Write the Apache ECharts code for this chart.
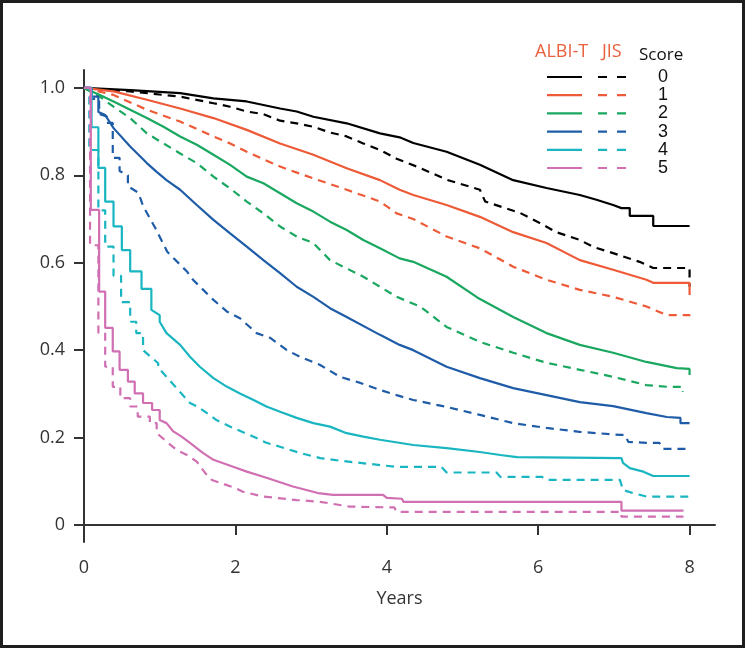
<!DOCTYPE html>
<html>
<head>
<meta charset="utf-8">
<script src="https://cdn.jsdelivr.net/npm/echarts@6/dist/echarts.min.js"></script>
<style>
html,body{margin:0;padding:0;background:#fff;}
#main{width:745px;height:648px;}
</style>
</head>
<body>
<div id="main"></div>
<script>
// score groups and colours
var scores = ['0','1','2','3','4','5'];
var colors = ['#000000','#ee5a37','#1aa760','#1f5ca8','#19b6c1','#d06fb2'];
var xTicks = [0,2,4,6,8];
var yTicks = [0,0.2,0.4,0.6,0.8,1.0];

// ALBI-T curves (solid), [years, survival]; repeated years = vertical drop
var albi0 = [[0,1],[0.61,0.995],[1.27,0.988],[1.71,0.976],[2.15,0.969],[2.59,0.953],[2.81,0.946],[3.03,0.934],[3.47,0.919],[3.91,0.896],[4.17,0.887],[4.35,0.874],[4.79,0.854],[5.23,0.824],[5.67,0.789],[6.11,0.771],[6.55,0.755],[6.77,0.744],[6.99,0.732],[7.1,0.725],[7.21,0.725],[7.21,0.707],[7.52,0.707],[7.52,0.684],[8.0,0.684]];
var albi1 = [[0,1],[0.39,0.992],[0.83,0.973],[1.27,0.953],[1.71,0.931],[2.15,0.904],[2.59,0.873],[3.03,0.847],[3.47,0.816],[3.91,0.789],[4.17,0.767],[4.35,0.755],[4.79,0.732],[5.23,0.705],[5.67,0.67],[6.11,0.645],[6.55,0.606],[6.99,0.584],[7.43,0.561],[7.52,0.554],[8.0,0.554],[8.0,0.526]];
var albi2 = [[0,1],[0.21,0.984],[0.39,0.969],[0.61,0.95],[0.83,0.931],[1.05,0.911],[1.27,0.889],[1.49,0.87],[1.71,0.847],[1.93,0.824],[2.15,0.797],[2.37,0.782],[2.59,0.759],[2.81,0.736],[3.03,0.717],[3.25,0.694],[3.47,0.675],[3.69,0.652],[3.91,0.633],[4.17,0.61],[4.35,0.602],[4.79,0.568],[5.2,0.52],[5.67,0.476],[6.11,0.439],[6.55,0.412],[6.99,0.394],[7.43,0.373],[7.83,0.359],[8.0,0.357],[8.0,0.343]];
var albi3 = [[0,1],[0.1,1],[0.1,0.98],[0.19,0.98],[0.19,0.945],[0.28,0.938],[0.39,0.908],[0.61,0.866],[0.83,0.828],[0.96,0.808],[1.09,0.789],[1.27,0.767],[1.49,0.732],[1.71,0.698],[1.93,0.667],[2.15,0.637],[2.37,0.606],[2.59,0.576],[2.81,0.545],[3.03,0.522],[3.25,0.496],[3.47,0.476],[3.91,0.435],[4.17,0.412],[4.35,0.40],[4.79,0.362],[5.23,0.336],[5.67,0.313],[6.11,0.297],[6.55,0.281],[6.99,0.272],[7.43,0.256],[7.7,0.247],[7.88,0.245],[7.88,0.233],[8.0,0.233]];
var albi4 = [[0,1],[0.1,1],[0.1,0.91],[0.19,0.91],[0.19,0.817],[0.28,0.817],[0.28,0.74],[0.39,0.74],[0.39,0.683],[0.5,0.683],[0.5,0.629],[0.61,0.629],[0.61,0.58],[0.76,0.58],[0.76,0.54],[0.89,0.54],[0.89,0.492],[1.0,0.48],[1.0,0.465],[1.09,0.439],[1.27,0.412],[1.4,0.385],[1.53,0.362],[1.71,0.336],[1.89,0.316],[2.06,0.301],[2.24,0.286],[2.41,0.271],[2.59,0.259],[2.81,0.245],[3.03,0.233],[3.25,0.225],[3.47,0.21],[3.69,0.202],[3.91,0.195],[4.35,0.183],[4.79,0.176],[5.23,0.167],[5.5,0.16],[5.72,0.155],[7.1,0.153],[7.12,0.142],[7.21,0.13],[7.39,0.122],[7.52,0.112],[8.0,0.112]];
var albi5 = [[0,1],[0.09,1],[0.09,0.721],[0.2,0.721],[0.2,0.534],[0.28,0.534],[0.28,0.451],[0.38,0.451],[0.38,0.397],[0.47,0.397],[0.47,0.355],[0.58,0.355],[0.58,0.328],[0.67,0.328],[0.67,0.301],[0.78,0.301],[0.78,0.279],[0.9,0.279],[0.9,0.263],[1.0,0.263],[1.0,0.24],[1.09,0.233],[1.18,0.214],[1.29,0.202],[1.4,0.188],[1.57,0.165],[1.71,0.149],[1.97,0.133],[2.15,0.122],[2.41,0.108],[2.76,0.088],[3.09,0.073],[3.29,0.069],[3.95,0.069],[4.0,0.062],[4.2,0.06],[4.22,0.053],[7.1,0.053],[7.1,0.033],[7.92,0.033]];

// JIS curves (dashed)
var jis0 = [[0,1],[0.61,0.992],[1.27,0.98],[1.71,0.965],[1.93,0.957],[2.15,0.946],[2.37,0.94],[2.59,0.925],[2.81,0.919],[3.03,0.911],[3.25,0.898],[3.47,0.889],[3.69,0.873],[3.91,0.858],[4.13,0.838],[4.44,0.817],[4.79,0.79],[5.23,0.767],[5.3,0.74],[5.76,0.714],[6.02,0.691],[6.24,0.67],[6.55,0.652],[6.73,0.636],[6.99,0.622],[7.34,0.602],[7.52,0.588],[8.0,0.588],[8.0,0.545]];
var jis1 = [[0,1],[0.39,0.984],[0.83,0.95],[1.27,0.923],[1.71,0.889],[1.93,0.873],[2.15,0.854],[2.59,0.82],[3.03,0.793],[3.47,0.767],[3.91,0.74],[4.13,0.713],[4.35,0.70],[4.79,0.66],[5.23,0.633],[5.67,0.591],[6.11,0.561],[6.55,0.538],[6.99,0.522],[7.43,0.50],[7.7,0.48],[8.0,0.48],[8.0,0.472]];
var jis2 = [[0,1],[0.21,0.98],[0.39,0.957],[0.61,0.931],[0.83,0.896],[1.05,0.873],[1.27,0.85],[1.49,0.828],[1.71,0.797],[1.93,0.77],[2.15,0.74],[2.37,0.713],[2.59,0.683],[2.81,0.66],[3.03,0.645],[3.25,0.606],[3.47,0.587],[3.69,0.568],[3.91,0.545],[4.13,0.522],[4.44,0.50],[4.79,0.453],[5.23,0.419],[5.67,0.394],[6.11,0.371],[6.55,0.355],[6.99,0.339],[7.43,0.32],[7.72,0.316],[7.91,0.316],[7.91,0.305]];
var jis3 = [[0,1],[0.08,1],[0.08,0.975],[0.2,0.975],[0.2,0.94],[0.3,0.935],[0.3,0.92],[0.38,0.92],[0.38,0.84],[0.47,0.84],[0.47,0.81],[0.58,0.80],[0.58,0.775],[0.72,0.76],[0.78,0.73],[0.94,0.68],[1.1,0.625],[1.36,0.58],[1.44,0.561],[1.71,0.515],[1.89,0.488],[2.06,0.473],[2.28,0.439],[2.46,0.428],[2.68,0.40],[2.85,0.385],[3.12,0.366],[3.38,0.339],[3.65,0.325],[3.91,0.309],[4.13,0.297],[4.35,0.286],[4.79,0.27],[5.23,0.252],[5.67,0.233],[6.11,0.222],[6.55,0.213],[7.08,0.206],[7.15,0.206],[7.19,0.19],[7.43,0.188],[7.6,0.188],[7.65,0.174],[8.0,0.174]];
var jis4 = [[0,1],[0.07,1],[0.07,0.858],[0.19,0.858],[0.19,0.72],[0.28,0.72],[0.28,0.637],[0.39,0.637],[0.39,0.57],[0.49,0.57],[0.49,0.51],[0.61,0.51],[0.61,0.465],[0.69,0.465],[0.69,0.439],[0.78,0.439],[0.78,0.40],[0.98,0.37],[0.98,0.36],[1.09,0.339],[1.29,0.30],[1.4,0.279],[1.51,0.27],[1.75,0.24],[1.97,0.222],[2.24,0.202],[2.41,0.188],[2.59,0.179],[2.85,0.165],[3.12,0.153],[3.38,0.147],[3.65,0.142],[3.91,0.137],[4.13,0.133],[4.72,0.133],[4.79,0.12],[5.45,0.12],[5.5,0.11],[6.05,0.11],[6.11,0.103],[7.08,0.103],[7.12,0.08],[7.25,0.073],[7.43,0.065],[8.0,0.065]];
var jis5 = [[0,1],[0.08,1],[0.08,0.64],[0.19,0.64],[0.19,0.44],[0.28,0.44],[0.28,0.362],[0.38,0.362],[0.38,0.316],[0.48,0.316],[0.48,0.29],[0.61,0.29],[0.61,0.271],[0.71,0.271],[0.71,0.248],[0.87,0.248],[0.87,0.233],[0.96,0.233],[0.96,0.21],[1.09,0.191],[1.22,0.172],[1.36,0.16],[1.49,0.145],[1.6,0.119],[1.69,0.103],[1.99,0.085],[2.1,0.076],[2.37,0.065],[2.81,0.057],[3.12,0.053],[3.51,0.042],[4.1,0.04],[4.13,0.03],[7.1,0.03],[7.1,0.019],[7.92,0.019]];

var albi = [albi0, albi1, albi2, albi3, albi4, albi5];
var jis = [jis0, jis1, jis2, jis3, jis4, jis5];

var myChart = echarts.init(document.getElementById('main'));

var series = [];
for (var i = 0; i < scores.length; i++) {
    series.push({
        name: 'ALBI-T ' + scores[i],
        type: 'line',
        showSymbol: false,
        data: albi[i],
        lineStyle: {color: colors[i], width: 2.2, type: 'solid'}
    });
    series.push({
        name: 'JIS ' + scores[i],
        type: 'line',
        showSymbol: false,
        data: jis[i],
        lineStyle: {color: colors[i], width: 2.2, type: [8, 6]}
    });
}

// hand drawn legend box (two columns of samples + score)
var graphic = [
    {type: 'rect', shape: {x: 1.5, y: 1.5, width: 742, height: 645}, style: {fill: null, stroke: '#1e1e1e', lineWidth: 3}},
    {type: 'text', x: 535, y: 52, style: {text: 'ALBI-T', fill: '#e9603c', font: '18px "Open Sans"', textVerticalAlign: 'middle'}},
    {type: 'text', x: 602, y: 52, style: {text: 'JIS', fill: '#e9603c', font: '18px "Open Sans"', textVerticalAlign: 'middle'}},
    {type: 'text', x: 639, y: 55, style: {text: 'Score', fill: '#111', font: '17px "Open Sans"', textVerticalAlign: 'middle'}}
];
for (var k = 0; k < scores.length; k++) {
    var ry = 77 + k * 18.2;
    graphic.push({type: 'line', shape: {x1: 547, y1: ry, x2: 582, y2: ry}, style: {stroke: colors[k], lineWidth: 2.2}});
    graphic.push({type: 'line', shape: {x1: 598, y1: ry, x2: 626, y2: ry}, style: {stroke: colors[k], lineWidth: 2.2, lineDash: [9, 10]}});
    graphic.push({type: 'text', x: 663, y: ry, style: {text: scores[k], fill: '#111', font: '18px "Liberation Sans"', textAlign: 'center', textVerticalAlign: 'middle'}});
}

option = {
    animation: false,
    grid: {left: 84, right: 30, top: 70, bottom: 106, containLabel: false},
    xAxis: {
        type: 'value',
        min: 0,
        max: 8.336,
        name: 'Years',
        nameLocation: 'middle',
        nameGap: 48,
        nameTextStyle: {color: '#333', fontSize: 18, fontFamily: 'Open Sans'},
        splitLine: {show: false},
        axisLine: {lineStyle: {color: '#333', width: 2}},
        axisTick: {length: 10, lineStyle: {color: '#333', width: 2}, customValues: xTicks},
        axisLabel: {customValues: xTicks, margin: 17, color: '#333', fontSize: 18, fontFamily: 'Open Sans'}
    },
    yAxis: {
        type: 'value',
        min: -0.039,
        max: 1.041,
        splitLine: {show: false},
        axisLine: {lineStyle: {color: '#333', width: 2}},
        axisTick: {length: 10, lineStyle: {color: '#333', width: 2}, customValues: yTicks},
        axisLabel: {
            customValues: yTicks, margin: 19, color: '#333', fontSize: 18, fontFamily: 'Open Sans',
            formatter: function (v) { return v === 0 ? '0' : v.toFixed(1); }
        }
    },
    graphic: graphic,
    series: series
};
myChart.setOption(option);
</script>
</body>
</html>
